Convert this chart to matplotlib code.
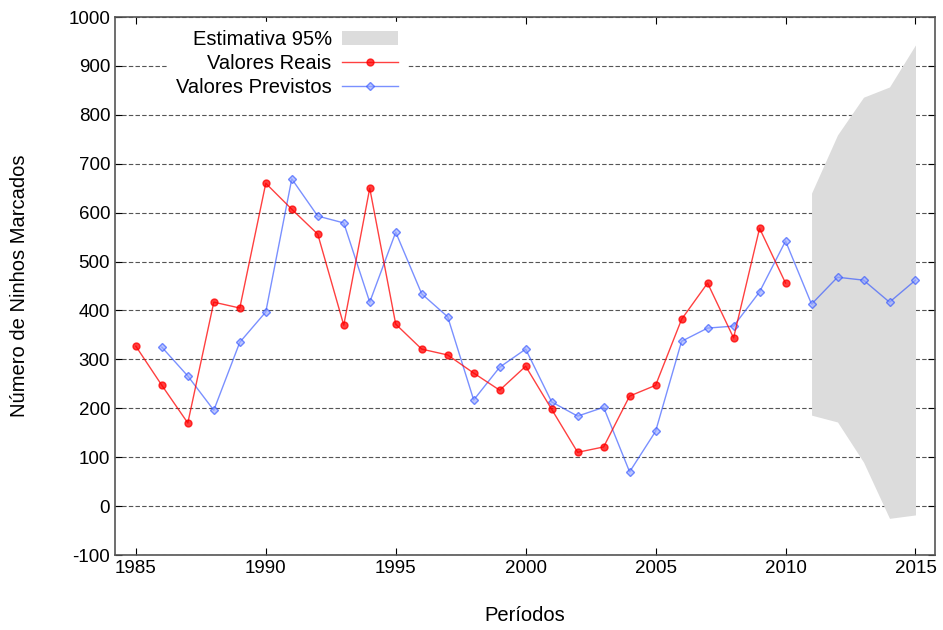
import matplotlib
matplotlib.use("Agg")
import matplotlib.pyplot as plt

# anos e valores
anos_reais = list(range(1985, 2011))
valores_reais = [327, 247, 170, 417, 405, 660, 607, 556, 370, 650, 372, 321, 309,
                 272, 237, 286, 198, 110, 121, 225, 247, 382, 456, 344, 568, 456]

anos_previstos = list(range(1986, 2016))
valores_previstos = [325, 266, 196, 335, 397, 669, 593, 579, 417, 560, 434, 387, 217,
                     284, 321, 213, 184, 202, 70, 153, 337, 364, 368, 438, 542,
                     413, 468, 462, 417, 462]

anos_estimativa = [2011, 2012, 2013, 2014, 2015]
limite_superior = [640, 759, 836, 857, 943]
limite_inferior = [186, 172, 90, -25, -18]

plt.rcParams['font.family'] = ['Liberation Sans', 'DejaVu Sans']
plt.rcParams['axes.unicode_minus'] = False

fig = plt.figure(figsize=(9.43, 6.3), dpi=100)
ax = fig.add_axes([0.122, 0.119, 0.8695, 0.854])

ax.fill_between(anos_estimativa, limite_inferior, limite_superior,
                color='#dcdcdc', linewidth=0, label='Estimativa 95%', zorder=2)
ax.plot(anos_reais, valores_reais, '-o', color='#ff0000', lw=1, alpha=0.75,
        markersize=5, label='Valores Reais', zorder=4)
ax.plot(anos_previstos, valores_previstos, '-D', color='#3355ff', lw=1, alpha=0.65,
        markersize=4, markerfacecolor='#99aaff', label='Valores Previstos', zorder=3)

ax.set_xlim(1984.2, 2015.75)
ax.set_ylim(-100, 1000)
ax.set_xticks(range(1985, 2016, 5))
ax.set_yticks(range(-100, 1001, 100))
ax.yaxis.grid(True, linestyle=(0, (4, 2)), color='#555555', linewidth=0.8)
ax.set_axisbelow(True)
ax.tick_params(direction='in', top=True, right=True, labelsize=13.5, length=5)
for s in ax.spines.values():
    s.set_color('#555555')
    s.set_linewidth(1.2)

ax.set_xlabel('Períodos', fontsize=14.5, labelpad=21)
ax.set_ylabel('Número de Ninhos Marcados', fontsize=14.5, labelpad=28)

leg = ax.legend(loc='upper right', bbox_to_anchor=(0.36, 0.998), frameon=True,
                fontsize=14.5, markerfirst=False, handlelength=2.8,
                handletextpad=0.5, labelspacing=0.25, borderaxespad=0.2)
leg.get_frame().set_edgecolor('white')
leg.get_frame().set_alpha(1)
for t in leg.get_texts():
    t.set_ha('right')

fig.savefig('out.png', dpi=100)
